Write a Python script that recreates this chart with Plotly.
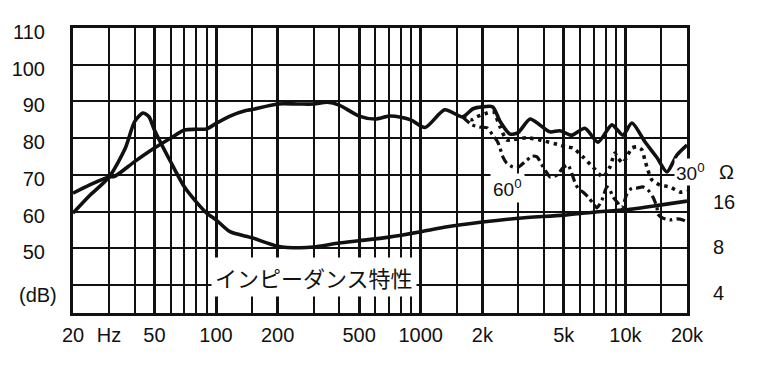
import numpy as np
import plotly.graph_objects as go

# ---- data ----
freq_on = [20, 24, 30, 32, 40, 50, 60, 70, 80, 90, 100, 117, 140, 150, 200, 250, 300, 350, 400,
           500, 600, 700, 800, 900, 1050, 1310, 1600, 1800, 2000, 2250, 2440, 2730, 2990, 3420,
           3820, 4280, 4790, 5480, 6340, 7350, 8590, 9720, 10760, 12450, 14260, 15960, 17860, 20000]
db_on = [65.0, 67.2, 69.4, 69.6, 73.6, 77.3, 80.0, 82.2, 82.4, 82.5, 84.0, 86.0, 87.5, 87.8, 89.3,
         89.3, 89.3, 89.8, 89.0, 86.0, 85.2, 86.0, 85.7, 84.9, 82.9, 87.7, 85.8, 88.0, 88.5, 88.5,
         84.6, 81.1, 81.5, 85.2, 83.6, 81.7, 82.0, 80.8, 82.7, 78.9, 83.6, 80.8, 84.1, 79.0, 74.7,
         70.8, 75.4, 78.1]

freq_30 = [1600, 1780, 1880, 2100, 2260, 2440, 2630, 2820, 3300, 3820, 4790, 5180, 5540, 6200,
           6940, 7770, 8400, 8690, 8890, 9190, 9720, 10170, 10760, 11380, 12040, 12450, 12880,
           13480, 14750, 16500, 18470, 20000]
db_30 = [85.8, 85.0, 85.8, 86.8, 87.2, 83.1, 79.5, 79.6, 80.1, 79.5, 78.1, 77.6, 77.3, 74.9,
         72.1, 69.4, 72.1, 74.6, 75.9, 74.6, 73.2, 74.9, 77.3, 77.6, 76.8, 74.0, 71.3, 68.6,
         67.2, 66.7, 65.3, 65.6]

freq_60 = [1600, 1780, 1950, 2110, 2250, 2380, 2440, 2520, 2630, 2820, 2990, 3300, 3490, 3700,
           3910, 4140, 4280, 4630, 4950, 5240, 5670, 5860, 6200, 6560, 6940, 7260, 7680, 8120,
           8400, 8690, 9190, 9620, 10170, 10760, 11380, 12160, 12880, 13610, 14260, 14400, 15250,
           16500, 17860, 19110, 20000]
db_60 = [85.8, 83.6, 83.0, 82.8, 80.8, 78.9, 77.3, 74.9, 73.2, 72.1, 72.1, 74.0, 75.1, 74.9,
         72.7, 70.5, 69.4, 69.9, 71.9, 72.7, 67.9, 66.4, 65.3, 64.0, 62.3, 61.0, 63.1, 66.7,
         65.9, 64.0, 62.3, 61.0, 64.8, 66.4, 66.4, 66.7, 65.9, 64.0, 61.2, 59.3, 58.2, 57.7,
         58.0, 57.7, 57.1]

freq_imp = [20, 24, 30, 36, 40, 44, 47, 50, 60, 70, 80, 90, 100, 117, 150, 200, 257, 300, 400,
            500, 700, 1000, 1300, 2000, 3000, 5000, 7000, 10000, 15000, 20000]
ohm_imp = [13.4, 17.4, 23.2, 36.0, 54.0, 61.6, 58.2, 47.6, 29.3, 20.0, 15.9, 13.4, 12.1, 10.1,
           9.2, 8.1, 7.9, 8.0, 8.5, 8.8, 9.3, 10.1, 10.8, 11.7, 12.4, 13.0, 13.6, 14.1, 15.2, 16.1]

x_label_vals = [20, 30, 50, 100, 200, 500, 1000, 2000, 5000, 10000, 20000]
x_label_text = ["20", "Hz", "50", "100", "200", "500", "1000", "2k", "5k", "10k", "20k"]
x_major_grid = [20, 50, 100, 200, 500, 1000, 2000, 5000, 10000, 20000]
x_minor_grid = [30, 40, 60, 70, 80, 90, 150, 300, 400, 600, 700, 800, 900, 1500,
                3000, 4000, 6000, 7000, 8000, 9000, 15000]
y_vals = [50, 60, 70, 80, 90, 100, 110]
y_text = ["50", "60", "70", "80", "90", "100", "110"]
y_minor_grid = [40]
ohm_vals = [4, 8, 16]
ohm_text = ["4", "8", "16"]

FONT = "Liberation Sans Narrow, Arial Narrow, Liberation Sans, Arial, sans-serif"
INK = "#111111"

xr = [np.log10(20), np.log10(20000)]
yr = [32.35, 110]
y2r = [np.log10(2.927), np.log10(224.9)]

fig = go.Figure()
fig.add_trace(go.Scatter(x=freq_on, y=db_on, mode="lines",
                         line=dict(color=INK, width=3.6, shape="spline", smoothing=0.7)))
fig.add_trace(go.Scatter(x=freq_30, y=db_30, mode="lines",
                         line=dict(color=INK, width=3.6, dash="3.5px,4.5px", shape="spline", smoothing=0.6)))
fig.add_trace(go.Scatter(x=freq_60, y=db_60, mode="lines",
                         line=dict(color=INK, width=3.2, dash="9px,4px,3px,4px", shape="spline", smoothing=0.6)))
fig.add_trace(go.Scatter(x=freq_imp, y=ohm_imp, mode="lines", xaxis="x2", yaxis="y2",
                         line=dict(color=INK, width=3.6, shape="spline", smoothing=0.7)))

# page body has an 8px margin: figure is 767x357 so that the plot lands at 73..687 x 28..313
fig.update_layout(
    width=767, height=357,
    margin=dict(l=65, r=88, t=20, b=52),
    paper_bgcolor="white", plot_bgcolor="white",
    showlegend=False,
    font=dict(family=FONT, size=20, color=INK),
    xaxis=dict(type="log", range=xr, tickvals=x_major_grid, showticklabels=False, ticks="",
               showgrid=True, gridcolor=INK, gridwidth=3, automargin=False,
               minor=dict(tickvals=x_minor_grid, showgrid=True, gridcolor=INK, gridwidth=1.6, ticks=""),
               showline=True, linecolor=INK, linewidth=3, mirror=True, zeroline=False),
    xaxis2=dict(type="log", range=xr, overlaying="x", side="bottom", anchor="y2",
                tickvals=x_label_vals, ticktext=x_label_text, ticks="", showgrid=False,
                showline=False, zeroline=False, ticklabelstandoff=8, automargin=False),
    yaxis=dict(range=yr, tickvals=y_vals, ticktext=y_text, ticks="", showgrid=True,
               gridcolor=INK, gridwidth=1.8, showline=True, linecolor=INK, linewidth=3,
               minor=dict(tickvals=y_minor_grid, showgrid=True, gridcolor=INK, gridwidth=1.8, ticks=""),
               mirror=True, zeroline=False, ticklabelstandoff=21, ticklabelshift=4, automargin=False),
    yaxis2=dict(type="log", range=y2r, overlaying="y", side="right", anchor="x2",
                tickvals=ohm_vals, ticktext=ohm_text, ticks="", showgrid=False,
                showline=False, zeroline=False, ticklabelstandoff=25, automargin=False),
)

fig.add_annotation(x=np.log10(302), y=42.15, xref="x", yref="y",
                   text="インピーダンス特性", showarrow=False,
                   font=dict(family="Noto Sans CJK JP", size=22, color=INK),
                   bgcolor="white", borderpad=3)
fig.add_annotation(x=np.log10(2640), y=66.4, xref="x", yref="y",
                   text="60<sup>0</sup>", showarrow=False,
                   font=dict(family=FONT, size=19, color=INK), bgcolor="white", borderpad=2)
fig.add_annotation(x=1.005, y=70.8, xref="paper", yref="y", xanchor="center",
                   text="30<sup>0</sup>", showarrow=False,
                   font=dict(family=FONT, size=19, color=INK), bgcolor="white", borderpad=1)
fig.add_annotation(x=1.065, y=70.8, xref="paper", yref="y", xanchor="center",
                   text="Ω", showarrow=False, font=dict(family=FONT, size=20, color=INK))
fig.add_annotation(x=-0.057, y=37.25, xref="paper", yref="y", xanchor="center",
                   text="(dB)", showarrow=False, font=dict(family=FONT, size=20, color=INK))

fig.write_html("out.html")
